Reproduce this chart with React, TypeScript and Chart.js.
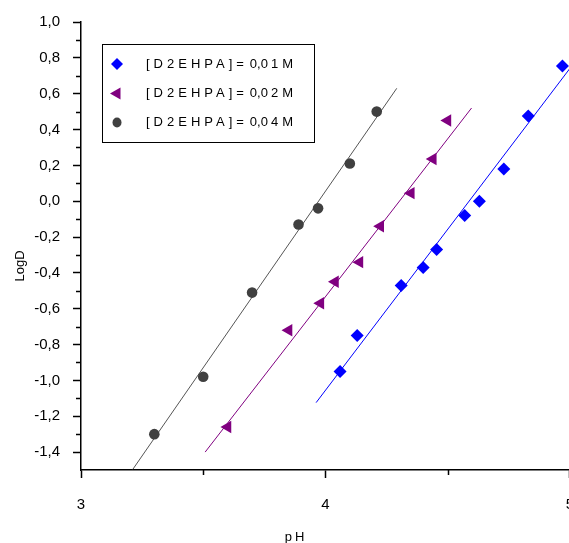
import React, { useEffect, useRef } from 'react';
import { Chart, registerables } from 'chart.js';

Chart.register(...registerables);

const seriesLabels = ['[D2EHPA]= 0,01M', '[D2EHPA]= 0,02M', '[D2EHPA]= 0,04M'];

const ph001 = [4.06, 4.13, 4.31, 4.40, 4.455, 4.57, 4.63, 4.73, 4.83, 4.97];
const logD001 = [-0.95, -0.75, -0.47, -0.37, -0.27, -0.08, 0.0, 0.18, 0.475, 0.755];

const ph002 = [3.60, 3.85, 3.98, 4.04, 4.14, 4.225, 4.35, 4.44, 4.50];
const logD002 = [-1.26, -0.72, -0.57, -0.45, -0.34, -0.14, 0.045, 0.235, 0.45];

const ph004 = [3.30, 3.50, 3.70, 3.89, 3.97, 4.10, 4.21];
const logD004 = [-1.30, -0.98, -0.51, -0.13, -0.04, 0.21, 0.50];

const fitPh001 = [3.962, 5.05];
const fitLogD001 = [-1.124, 0.83];
const fitPh002 = [3.508, 4.598];
const fitLogD002 = [-1.40, 0.52];
const fitPh004 = [3.212, 4.292];
const fitLogD004 = [-1.496, 0.63];

const xTickValues = [3, 4, 5];
const xMinorTickValues = [3.5, 4.5];
const yTickValues = [-1.4, -1.2, -1.0, -0.8, -0.6, -0.4, -0.2, 0.0, 0.2, 0.4, 0.6, 0.8, 1.0];
const yMinorTickValues = [-1.3, -1.1, -0.9, -0.7, -0.5, -0.3, -0.1, 0.1, 0.3, 0.5, 0.7, 0.9];

const xTitle = 'pH';
const yTitle = 'LogD';

const BLUE = '#0000FF';
const PURPLE = '#800080';
const GRAY = '#404040';
const LINEGRAY = '#555555';
const FONT = 'Arial, "Liberation Sans", sans-serif';

const PAGE_W = 569;
const PAGE_H = 543;
const CANVAS_W = 577;

const zip = (xs: number[], ys: number[]) => xs.map((x, i) => ({ x, y: ys[i] }));

const fmt = (v: number) => {
  const r = Math.abs(v) < 1e-9 ? 0 : v;
  return r.toFixed(1).replace('.', ',');
};

function drawMarker(ctx: CanvasRenderingContext2D, kind: string, x: number, y: number, r: number, color: string) {
  ctx.save();
  ctx.fillStyle = color;
  ctx.beginPath();
  if (kind === 'diamond') {
    ctx.moveTo(x, y - r);
    ctx.lineTo(x + r, y);
    ctx.lineTo(x, y + r);
    ctx.lineTo(x - r, y);
    ctx.closePath();
  } else if (kind === 'triangleLeft') {
    ctx.moveTo(x - r, y);
    ctx.lineTo(x + r * 0.5, y - r * 0.866);
    ctx.lineTo(x + r * 0.5, y + r * 0.866);
    ctx.closePath();
  } else {
    ctx.ellipse(x, y, r * 0.9, r, 0, 0, Math.PI * 2);
  }
  ctx.fill();
  ctx.restore();
}

const decorPlugin = {
  id: 'decor',
  afterDraw(chart: any) {
    const ctx: CanvasRenderingContext2D = chart.ctx;
    const xs = chart.scales.x;
    const ys = chart.scales.y;
    const area = chart.chartArea;
    ctx.save();
    // minor ticks
    ctx.strokeStyle = '#000';
    ctx.lineWidth = 1.5;
    ctx.beginPath();
    yMinorTickValues.forEach((v) => {
      const py = Math.round(ys.getPixelForValue(v)) + 0.5;
      ctx.moveTo(area.left - 5, py);
      ctx.lineTo(area.left, py);
    });
    xMinorTickValues.forEach((v) => {
      const px = Math.round(xs.getPixelForValue(v)) + 0.5;
      ctx.moveTo(px, area.bottom);
      ctx.lineTo(px, area.bottom + 5);
    });
    ctx.stroke();

    // axis titles
    ctx.fillStyle = '#000';
    ctx.font = `13px ${FONT}`;
    (ctx as any).letterSpacing = '3px';
    ctx.textAlign = 'center';
    ctx.textBaseline = 'middle';
    ctx.fillText(xTitle, xs.getPixelForValue(3.88), 537);
    (ctx as any).letterSpacing = '0px';
    ctx.save();
    ctx.translate(20, (area.top + area.bottom) / 2 + 20);
    ctx.rotate(-Math.PI / 2);
    ctx.font = `13px ${FONT}`;
    ctx.fillText(yTitle, 0, 0);
    ctx.restore();

    // legend box
    const bx = 102.5, by = 44.5, bw = 212, bh = 98;
    ctx.strokeStyle = '#000';
    ctx.lineWidth = 1;
    ctx.strokeRect(bx, by, bw, bh);
    const kinds = ['diamond', 'triangleLeft', 'circle'];
    const colors = [BLUE, PURPLE, GRAY];
    const sizes = [6, 7, 5];
    const rowY = [64, 93.5, 122.5];
    ctx.font = `13px ${FONT}`;
    ctx.textAlign = 'left';
    ctx.textBaseline = 'middle';
    seriesLabels.forEach((label, i) => {
      drawMarker(ctx, kinds[i], 117, rowY[i], sizes[i], colors[i]);
      const m = label.match(/^(.*=)\s*(0,0)(.*)$/);
      const parts = m ? [m[1], m[2], m[3]] : [label];
      let x = 146;
      parts.forEach((p, k) => {
        const spaced = k !== 1;
        (ctx as any).letterSpacing = spaced ? '4px' : '0px';
        ctx.fillStyle = '#000';
        ctx.fillText(p, x, rowY[i]);
        x += ctx.measureText(p).width + (k === 0 ? 2 : 3);
      });
      (ctx as any).letterSpacing = '0px';
    });
    ctx.restore();
  },
};

export default function App() {
  const ref = useRef<HTMLCanvasElement>(null);
  useEffect(() => {
    document.body.style.margin = '0';
    const canvas = ref.current!;
    const chart = new Chart(canvas, {
      type: 'scatter',
      data: {
        datasets: [
          {
            label: seriesLabels[0],
            data: zip(ph001, logD001),
            pointStyle: 'rectRot',
            pointRadius: 6.5,
            backgroundColor: BLUE,
            borderColor: BLUE,
            borderWidth: 0,
            showLine: false,
          },
          {
            label: seriesLabels[1],
            data: zip(ph002, logD002),
            pointStyle: 'triangle',
            rotation: -90,
            pointRadius: 7.2,
            backgroundColor: PURPLE,
            borderColor: PURPLE,
            borderWidth: 0,
            showLine: false,
          },
          {
            label: seriesLabels[2],
            data: zip(ph004, logD004),
            pointStyle: 'circle',
            pointRadius: 5.3,
            backgroundColor: GRAY,
            borderColor: GRAY,
            borderWidth: 0,
            showLine: false,
          },
          {
            label: 'fit 0,01M',
            data: zip(fitPh001, fitLogD001),
            showLine: true,
            pointRadius: 0,
            borderColor: BLUE,
            borderWidth: 1,
          },
          {
            label: 'fit 0,02M',
            data: zip(fitPh002, fitLogD002),
            showLine: true,
            pointRadius: 0,
            borderColor: PURPLE,
            borderWidth: 1,
          },
          {
            label: 'fit 0,04M',
            data: zip(fitPh004, fitLogD004),
            showLine: true,
            pointRadius: 0,
            borderColor: LINEGRAY,
            borderWidth: 1,
          },
        ],
      },
      options: {
        responsive: false,
        animation: false,
        devicePixelRatio: 1,
        layout: { padding: { top: 22, right: 0, left: 0, bottom: 0 } },
        plugins: {
          legend: { display: false },
          tooltip: { enabled: false },
        },
        scales: {
          x: {
            type: 'linear',
            min: 3,
            max: 5,
            afterBuildTicks: (scale: any) => {
              scale.ticks = xTickValues.map((v) => ({ value: v }));
            },
            afterFit: (scale: any) => {
              scale.height = 73;
              scale.paddingLeft = 0;
              scale.paddingRight = 0;
            },
            ticks: {
              color: '#000',
              font: { family: FONT, size: 15 },
              padding: 18,
              maxRotation: 0,
              autoSkip: false,
              callback: (v: any) => String(v),
            },
            grid: {
              drawOnChartArea: false,
              drawTicks: true,
              tickLength: 8,
              tickColor: '#000',
              tickWidth: 1.5,
            },
            border: { display: true, color: '#000', width: 1.5 },
          },
          y: {
            type: 'linear',
            min: -1.5,
            max: 1.0,
            afterBuildTicks: (scale: any) => {
              scale.ticks = yTickValues.map((v) => ({ value: v }));
            },
            afterFit: (scale: any) => {
              scale.width = 81;
              scale.paddingTop = 0;
              scale.paddingBottom = 0;
            },
            ticks: {
              color: '#000',
              font: { family: FONT, size: 15 },
              padding: 13,
              autoSkip: false,
              callback: (v: any) => fmt(Number(v)),
            },
            grid: {
              drawOnChartArea: false,
              drawTicks: true,
              tickLength: 8,
              tickColor: '#000',
              tickWidth: 1.5,
            },
            border: { display: true, color: '#000', width: 1.5 },
          },
        },
      },
      plugins: [decorPlugin],
    });
    return () => chart.destroy();
  }, []);
  return (
    <div style={{ width: PAGE_W, height: PAGE_H, overflow: 'hidden' }}>
      <div style={{ width: CANVAS_W, height: PAGE_H }}>
        <canvas ref={ref} width={CANVAS_W} height={PAGE_H} style={{ display: 'block' }} />
      </div>
    </div>
  );
}
